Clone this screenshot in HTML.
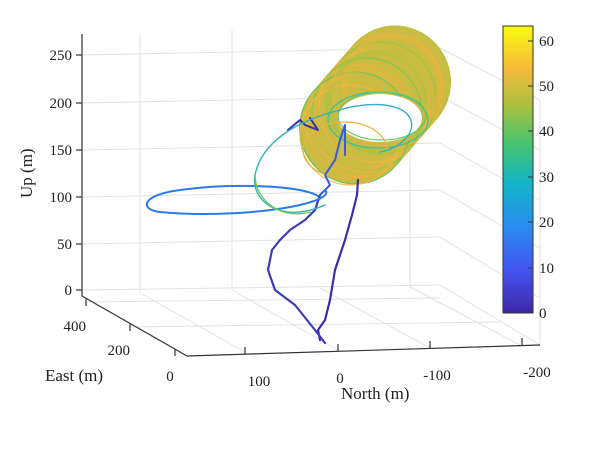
<!DOCTYPE html>
<html><head><meta charset="utf-8"><style>
body{margin:0;background:#fff;width:600px;height:446px;overflow:hidden}
svg text{font-family:"Liberation Serif",serif;fill:#222}
</style></head><body>
<svg width="600" height="446" viewBox="0 0 600 446" xmlns="http://www.w3.org/2000/svg">
<defs>
<linearGradient id="cb" x1="0" y1="1" x2="0" y2="0">
<stop offset="0" stop-color="#3e26a8"/><stop offset="0.15" stop-color="#4354f0"/>
<stop offset="0.3" stop-color="#2a8cf0"/><stop offset="0.45" stop-color="#12b5c8"/>
<stop offset="0.6" stop-color="#4cc46a"/><stop offset="0.72" stop-color="#a8c040"/>
<stop offset="0.85" stop-color="#f5ba3c"/><stop offset="1" stop-color="#f9fb0e"/>
</linearGradient>
</defs>
<!-- grid -->
<g stroke="#e2e2e2" stroke-width="1" fill="none">
<line x1="140" y1="33" x2="140" y2="293"/>
<line x1="232" y1="30" x2="232" y2="290"/>
<line x1="410" y1="28" x2="410" y2="288"/>
<line x1="82" y1="55" x2="440" y2="48"/>
<line x1="82" y1="103" x2="440" y2="96"/>
<line x1="82" y1="150" x2="440" y2="143"/>
<line x1="82" y1="197" x2="440" y2="190"/>
<line x1="82" y1="244" x2="440" y2="237"/>
<line x1="82" y1="290" x2="440" y2="285"/>
<line x1="440" y1="48" x2="540" y2="100"/>
<line x1="440" y1="96" x2="540" y2="150"/>
<line x1="440" y1="143" x2="540" y2="200"/>
<line x1="440" y1="190" x2="540" y2="248"/>
<line x1="440" y1="237" x2="540" y2="298"/>
<line x1="440" y1="285" x2="540" y2="345"/>
<line x1="86" y1="302" x2="440" y2="298"/>
<line x1="130" y1="327" x2="500" y2="322"/>
<line x1="245" y1="352" x2="140" y2="293"/>
<line x1="338" y1="350" x2="232" y2="290"/>
<line x1="430" y1="348" x2="320" y2="288"/>
<line x1="522" y1="346" x2="410" y2="287"/>
<line x1="540" y1="345" x2="540" y2="100"/>
</g>
<!-- axes -->
<g stroke="#333" stroke-width="1.2" fill="none">
<line x1="82" y1="34" x2="82" y2="296"/>
<line x1="82" y1="296" x2="187" y2="356"/>
<line x1="187" y1="356" x2="540" y2="345"/>
<line x1="76" y1="55" x2="82" y2="55"/><line x1="76" y1="103" x2="82" y2="103"/>
<line x1="76" y1="150" x2="82" y2="150"/><line x1="76" y1="197" x2="82" y2="197"/>
<line x1="76" y1="244" x2="82" y2="244"/><line x1="76" y1="290" x2="82" y2="290"/>
<line x1="86" y1="299" x2="86" y2="306"/><line x1="130" y1="324" x2="130" y2="331"/>
<line x1="175" y1="349" x2="175" y2="356"/>
<line x1="245" y1="354" x2="245" y2="347"/><line x1="338" y1="351" x2="338" y2="344"/>
<line x1="430" y1="348" x2="430" y2="341"/><line x1="522" y1="345" x2="522" y2="338"/>
</g>
<g font-size="15">
<text x="72" y="60" text-anchor="end">250</text>
<text x="72" y="108" text-anchor="end">200</text>
<text x="72" y="155" text-anchor="end">150</text>
<text x="72" y="202" text-anchor="end">100</text>
<text x="72" y="249" text-anchor="end">50</text>
<text x="72" y="295" text-anchor="end">0</text>
<text x="86" y="331" text-anchor="end">400</text>
<text x="130" y="355" text-anchor="end">200</text>
<text x="170" y="381" text-anchor="middle">0</text>
<text x="259" y="386" text-anchor="middle">100</text>
<text x="340" y="383" text-anchor="middle">0</text>
<text x="437" y="380" text-anchor="middle">-100</text>
<text x="537" y="377" text-anchor="middle">-200</text>
</g>
<text x="45" y="381" font-size="17">East (m)</text>
<text x="341" y="399" font-size="17">North (m)</text>
<text transform="translate(32,198) rotate(-90)" font-size="17">Up (m)</text>
<!-- cylinder body -->
<line x1="355" y1="128" x2="395" y2="82" stroke="#cabb42" stroke-width="112" stroke-linecap="round"/>
<g fill="none" stroke-width="1.2" opacity="0.9">
<ellipse cx="395" cy="82" rx="55" ry="56" stroke="#b9c23c"/>
<ellipse cx="388" cy="90" rx="55" ry="56" stroke="#eeb43e"/>
<ellipse cx="381" cy="98" rx="55" ry="56" stroke="#98c644"/>
<ellipse cx="374" cy="106" rx="55" ry="56" stroke="#f1b640"/>
<ellipse cx="367" cy="114" rx="55" ry="56" stroke="#7cc84e"/>
<ellipse cx="361" cy="121" rx="55" ry="56" stroke="#f2b23c"/>
<ellipse cx="355" cy="128" rx="55" ry="56" stroke="#62c760"/>
<ellipse cx="350" cy="135" rx="50" ry="50" stroke="#f5b640"/>
</g>
<g fill="none" stroke-width="5" opacity="0.45">
<ellipse cx="392" cy="86" rx="48" ry="50" stroke="#f0b43c"/>
<ellipse cx="378" cy="102" rx="48" ry="50" stroke="#a8c440"/>
<ellipse cx="362" cy="120" rx="48" ry="50" stroke="#f0b43c"/>
</g>
<ellipse cx="380" cy="118" rx="42" ry="24" fill="#fff"/>
<g fill="none" stroke-width="1.2">
<ellipse cx="378" cy="120" rx="50" ry="28" stroke="#3cc0a0"/>
<ellipse cx="382" cy="116" rx="44" ry="24" stroke="#5cc870"/>
<ellipse cx="345" cy="150" rx="42" ry="28" stroke="#f0b040"/>
</g>
<!-- trajectories -->
<g fill="none" stroke-linejoin="round" stroke-linecap="round">
<path d="M320 340 L318 330 L325 320 L330 300 L335 270 L345 240 L352 215 L357 195 L358 180" stroke="#3a2fa8" stroke-width="2.2"/>
<path d="M325 343 L315 330 L295 305 L275 290 L268 270 L272 250 L280 240 L290 230 L305 220 L315 210 L320 195" stroke="#3b3cb8" stroke-width="2.2"/>
<path d="M320 195 L330 185 L325 175 L335 160 L340 140 L345 125 L345 155" stroke="#3a5cd8" stroke-width="2"/>
<path d="M310 118 L318 130 L305 125 L300 120 L288 130" stroke="#3a2fa8" stroke-width="2"/>
<path d="M318 196 C300 185,230 183,180 190 C140 195,140 210,160 212 C200 216,260 214,300 205 C320 200,330 195,325 190" stroke="#2b7ce8" stroke-width="2"/>
<path d="M325 205 C280 225,250 200,255 175 C262 140,300 120,340 110 C360 103,400 100,410 118 C418 135,395 150,380 152" stroke="#34b0c0" stroke-width="1.4"/>
<path d="M255 175 C255 200,280 220,310 212" stroke="#6cc858" stroke-width="1.4"/>
</g>
<!-- colorbar -->
<rect x="503" y="26" width="30" height="287" fill="url(#cb)" stroke="#333" stroke-width="1"/>
<g stroke="#333"><line x1="533" y1="313" x2="528" y2="313"/><line x1="533" y1="268" x2="528" y2="268"/><line x1="533" y1="222" x2="528" y2="222"/><line x1="533" y1="177" x2="528" y2="177"/><line x1="533" y1="131" x2="528" y2="131"/><line x1="533" y1="86" x2="528" y2="86"/><line x1="533" y1="41" x2="528" y2="41"/></g>
<g font-size="15">
<text x="539" y="318">0</text><text x="539" y="273">10</text><text x="539" y="227">20</text>
<text x="539" y="182">30</text><text x="539" y="136">40</text><text x="539" y="91">50</text><text x="539" y="46">60</text>
</g>
</svg>
</body></html>
